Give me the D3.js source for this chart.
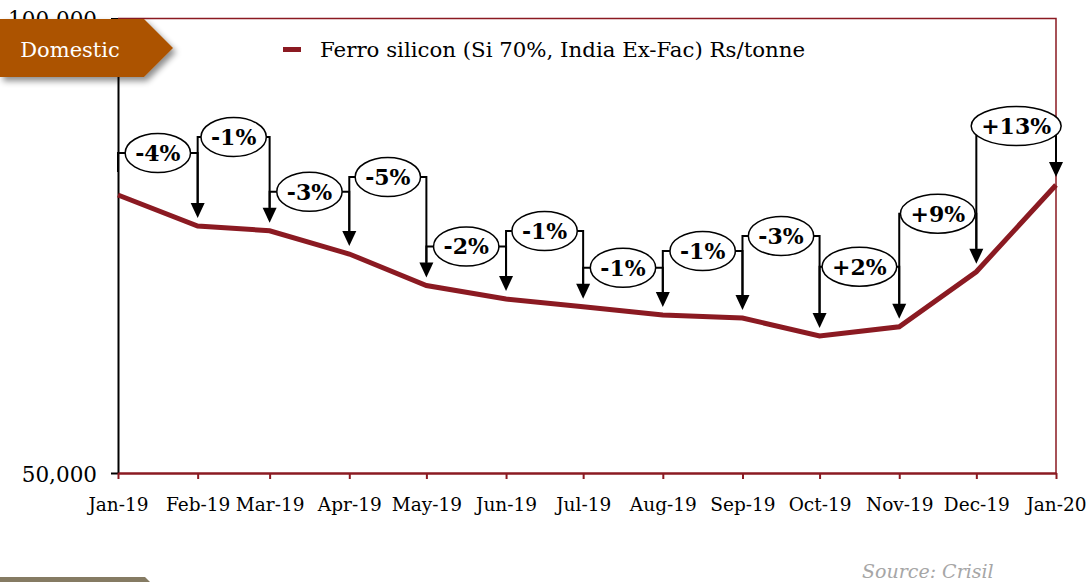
<!DOCTYPE html>
<html>
<head>
<meta charset="utf-8">
<script src="https://cdn.jsdelivr.net/npm/d3@7"></script>
<style>
  body { margin: 0; background: #fff; }
  svg { display: block; font-family: "DejaVu Serif", Georgia, serif; }
</style>
</head>
<body>
<div id="chart"></div>
<script>
// Data
var months = ["Jan-19", "Feb-19", "Mar-19", "Apr-19", "May-19", "Jun-19", "Jul-19",
              "Aug-19", "Sep-19", "Oct-19", "Nov-19", "Dec-19", "Jan-20"];
var monthStarts = ["2019-01-01", "2019-02-01", "2019-03-01", "2019-04-01", "2019-05-01",
                   "2019-06-01", "2019-07-01", "2019-08-01", "2019-09-01", "2019-10-01",
                   "2019-11-01", "2019-12-01", "2020-01-01"];
var prices = [80580, 77170, 76650, 74090, 70625, 69140, 68290, 67380, 67050, 65070, 66090, 72140, 81680];
var changeLabels = ["-4%", "-1%", "-3%", "-5%", "-2%", "-1%", "-1%", "-1%", "-3%", "+2%", "+9%", "+13%"];
var yTicks = [50000, 100000];
var seriesName = "Ferro silicon (Si 70%, India Ex-Fac) Rs/tonne";

// Layout only: how far (px) each callout sits above the higher end of its step
var calloutRise = [42, 89, 39, 77, 39, 68, 39, 64, 82, 60, 58, 59];

var width = 1091, height = 582;
var lineColor = "#8B1A22";

var parse = d3.timeParse("%Y-%m-%d");
var dates = monthStarts.map(parse);

var svg = d3.select("#chart").append("svg")
  .attr("width", width)
  .attr("height", height);

var defs = svg.append("defs");
var shadow = defs.append("filter").attr("id", "shadow")
  .attr("x", "-10%").attr("y", "-20%").attr("width", "130%").attr("height", "150%");
shadow.append("feDropShadow")
  .attr("dx", 3).attr("dy", 4).attr("stdDeviation", 3)
  .attr("flood-color", "#000").attr("flood-opacity", 0.45);

var x = d3.scaleTime().domain([dates[0], dates[dates.length - 1]]).range([118, 1056]);
var y = d3.scaleLinear().domain([50000, 100000]).range([473, 18.5]);

// frame: top and right edges
svg.append("path")
  .attr("d", "M" + x.range()[0] + "," + y(100000) + "H" + x.range()[1] + "V" + y(50000))
  .attr("fill", "none")
  .attr("stroke", lineColor)
  .attr("stroke-width", 1.5);

// y axis
var yAxis = svg.append("g")
  .attr("transform", "translate(" + x.range()[0] + ",0)")
  .call(d3.axisLeft(y).tickValues(yTicks).tickSizeInner(7).tickSizeOuter(0)
    .tickPadding(14).tickFormat(d3.format(",")));
yAxis.select(".domain").attr("stroke", "#000").attr("stroke-width", 2);
yAxis.selectAll(".tick line").attr("stroke", "#000").attr("stroke-width", 2);
yAxis.selectAll(".tick text")
  .attr("font-family", "DejaVu Serif")
  .attr("font-size", 21.5)
  .attr("fill", "#000")
  .attr("dy", "0.38em");

// x axis
var xAxis = svg.append("g")
  .attr("transform", "translate(0," + y(50000) + ")")
  .call(d3.axisBottom(x).tickValues(dates).tickSizeInner(6).tickSizeOuter(0)
    .tickPadding(19).tickFormat(function(d, i) { return months[i]; }));
xAxis.select(".domain").attr("stroke", lineColor).attr("stroke-width", 2.5);
xAxis.selectAll(".tick line").attr("stroke", lineColor).attr("stroke-width", 2);
xAxis.selectAll(".tick text")
  .attr("font-family", "DejaVu Serif")
  .attr("font-size", 18.5)
  .attr("fill", "#000");

// price line
var line = d3.line()
  .x(function(d, i) { return x(dates[i]); })
  .y(function(d) { return y(d); });

svg.append("path")
  .datum(prices)
  .attr("d", line)
  .attr("fill", "none")
  .attr("stroke", lineColor)
  .attr("stroke-width", 5);

// callouts with % change
var headLen = 15, headHalf = 7, gap = 8;
var callouts = svg.append("g");

changeLabels.forEach(function(label, i) {
  var x0 = x(dates[i]), x1 = x(dates[i + 1]);
  var y0 = y(prices[i]), y1 = y(prices[i + 1]);
  var cy = Math.min(y0, y1) - calloutRise[i];
  var cx = (x0 + x1) / 2;
  var g = callouts.append("g");

  var txt = g.append("text")
    .attr("x", cx)
    .attr("y", cy)
    .attr("dy", "0.36em")
    .attr("text-anchor", "middle")
    .attr("font-size", 22)
    .attr("font-weight", "bold")
    .text(label);
  var rx = txt.node().getComputedTextLength() / 2 + 10;

  var tipL = y0 - gap - headLen;
  var tipR = y1 - gap;
  var d = "M" + x0 + "," + Math.max(tipL, cy) + "V" + cy + "H" + (cx - rx) +
          "M" + (cx + rx) + "," + cy + "H" + x1 + "V" + (tipR - headLen + 1);
  g.insert("path", "text")
    .attr("d", d)
    .attr("fill", "none")
    .attr("stroke", "#000")
    .attr("stroke-width", 2);

  g.insert("ellipse", "text")
    .attr("cx", cx)
    .attr("cy", cy)
    .attr("rx", rx)
    .attr("ry", 19.5)
    .attr("fill", "#fff")
    .attr("stroke", "#000")
    .attr("stroke-width", 1.5);

  g.append("path")
    .attr("d", "M" + (x1 - headHalf) + "," + (tipR - headLen) + "H" + (x1 + headHalf) +
               "L" + x1 + "," + tipR + "Z")
    .attr("fill", "#000");
});

// legend
svg.append("rect")
  .attr("x", 283).attr("y", 47)
  .attr("width", 18).attr("height", 5)
  .attr("fill", lineColor);
svg.append("text")
  .attr("x", 320).attr("y", 57)
  .attr("font-size", 21.3)
  .attr("fill", "#000")
  .text(seriesName);

// "Domestic" tag
svg.append("path")
  .attr("d", "M0,19H144L173,48L144,77H0Z")
  .attr("fill", "#AC5300")
  .attr("filter", "url(#shadow)");
svg.append("text")
  .attr("x", 70).attr("y", 57)
  .attr("text-anchor", "middle")
  .attr("font-size", 21)
  .attr("fill", "#fff")
  .text("Domestic");

// next tag peeking in at the bottom
svg.append("path")
  .attr("d", "M0,577H145L174,606L145,635H0Z")
  .attr("fill", "#857B63");

// source
svg.append("text")
  .attr("x", 862).attr("y", 578)
  .attr("font-size", 19)
  .attr("font-style", "italic")
  .attr("fill", "#A6A6A6")
  .text("Source: Crisil");
</script>
</body>
</html>
